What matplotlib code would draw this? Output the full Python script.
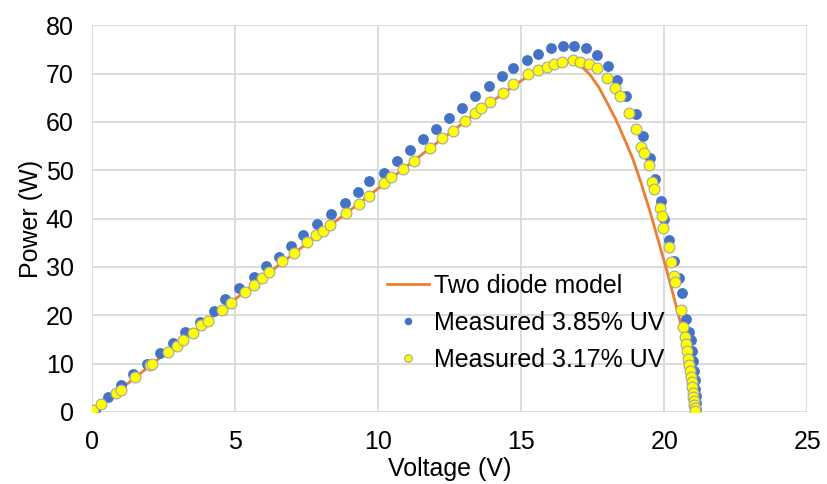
import matplotlib.pyplot as plt

plt.rcParams['font.family'] = ['Liberation Sans', 'DejaVu Sans']

# two diode model curve
v_model = [0, 1, 2, 3, 4, 5, 6, 7, 8, 9, 10, 11, 12, 13, 14, 15, 15.5, 16, 16.5, 16.8,
           17.1, 17.4, 17.7, 18.0, 18.3, 18.6, 18.9, 19.2, 19.5, 19.8, 20.1, 20.4,
           20.6, 20.8, 20.95, 21.06]
p_model = [0, 4.7, 9.4, 14.1, 18.7, 23.3, 27.9, 32.5, 37.1, 41.6, 46.2, 50.8, 55.4,
           59.9, 64.3, 68.5, 70.4, 71.9, 72.6, 72.7, 71.5, 69.8, 67.3, 64.0, 60.6,
           56.6, 52.4, 47.2, 41.5, 35.3, 29.0, 22.3, 17.6, 11.8, 6.0, 0]

# measured 3.85% UV
v_blue = [0.1, 0.56, 1.03, 1.44, 1.91, 2.37, 2.84, 3.27, 3.78, 4.25, 4.66, 5.15, 5.66,
          6.07, 6.54, 6.97, 7.39, 7.88, 8.35, 8.84, 9.29, 9.70, 10.2, 10.65, 11.1,
          11.57, 12.03, 12.47, 12.94, 13.40, 13.87, 14.34, 14.72, 15.19, 15.6, 16.04,
          16.48, 16.86, 17.27, 17.65, 18.02, 18.35, 18.67, 19.0, 19.26, 19.52, 19.67,
          19.87, 19.99, 20.16, 20.34, 20.52, 20.63, 20.75, 20.86, 20.92, 20.98, 21.02,
          21.05, 21.07, 21.09, 21.1, 21.11, 21.12]
p_blue = [0.3, 3.0, 5.6, 7.8, 9.9, 12.1, 14.2, 16.6, 18.6, 20.9, 23.3, 25.7, 28.0,
          30.2, 32.0, 34.4, 36.5, 38.9, 41.0, 43.2, 45.4, 47.7, 49.5, 51.8, 54.2,
          56.4, 58.5, 60.7, 62.8, 65.4, 67.5, 69.4, 71.2, 72.7, 74.0, 75.2,
          75.7, 75.7, 75.3, 73.8, 71.5, 68.7, 65.4, 61.6, 57.1, 52.6, 48.2,
          43.7, 39.8, 35.5, 31.3, 27.6, 24.5, 19.3, 16.5, 14.8, 12.5, 10.5,
          8.5, 6.5, 4.8, 3.2, 1.8, 0.5]

# measured 3.17% UV
v_yel = [0.04, 0.33, 0.85, 1.0, 1.5, 2.02, 2.1, 2.67, 2.96, 3.19, 3.54, 3.81, 4.07,
         4.54, 4.87, 5.36, 5.65, 5.95, 6.19, 6.66, 7.06, 7.51, 7.82, 8.06, 8.33, 8.88,
         9.35, 9.70, 10.2, 10.46, 10.87, 11.27, 11.8, 12.24, 12.62, 13.03, 13.4, 13.61,
         13.91, 14.37, 14.72, 15.25, 15.6, 15.89, 16.16, 16.42, 16.8, 17.06, 17.36,
         17.65, 18.0, 18.29, 18.47, 18.76, 19.0, 19.2, 19.29, 19.46, 19.58, 19.64,
         19.84, 19.91, 19.97, 20.15, 20.25, 20.33, 20.39, 20.57, 20.66, 20.72, 20.76,
         20.8, 20.84, 20.87, 20.9, 20.93, 20.96, 20.98, 21.0, 21.02, 21.04, 21.05,
         21.06, 21.08]
p_yel = [0.4, 1.6, 3.9, 4.6, 7.2, 9.7, 10.0, 12.4, 13.6, 14.8, 16.4, 17.9, 18.8,
         21.0, 22.5, 24.8, 26.2, 27.6, 28.9, 31.3, 32.8, 35.1, 36.5, 37.5, 38.6, 41.1,
         43.0, 44.7, 47.3, 48.5, 50.2, 52.0, 54.5, 56.6, 58.1, 60.2, 61.9, 62.8,
         64.1, 66.0, 67.8, 69.8, 70.7, 71.4, 72.0, 72.4, 72.8, 72.4, 71.9,
         71.2, 69.1, 67.1, 65.4, 61.9, 58.5, 54.8, 53.5, 51.1, 47.5, 46.2,
         42.2, 40.6, 38.1, 34.1, 31.0, 28.2, 26.9, 21.0, 17.6, 15.5, 14.0,
         12.5, 11.0, 9.8, 8.5, 7.3, 6.2, 5.1, 4.0, 3.0, 2.2, 1.5,
         0.8, 0.1]

fig = plt.figure(figsize=(8.28, 4.84), dpi=100)
ax = fig.add_axes([0.111, 0.149, 0.864, 0.799])

ax.plot(v_model, p_model, color='#ED7D31', linewidth=2, zorder=2, label='Two diode model')
ax.plot(v_blue, p_blue, 'o', color='#4472C4', markersize=7.8, markeredgewidth=0,
        zorder=3, label='Measured 3.85% UV')
ax.plot(v_yel, p_yel, 'o', color='#FFFF00', markeredgecolor='#A5A5A5', markersize=7.8,
        markeredgewidth=0.8, zorder=4, label='Measured 3.17% UV')

ax.set_xlim(0, 25)
ax.set_ylim(0, 80)
ax.set_xticks([0, 5, 10, 15, 20, 25])
ax.set_yticks(range(0, 81, 10))
ax.grid(True, color='#d9d9d9', linewidth=1.3)
ax.set_axisbelow(True)
for s in ax.spines.values():
    s.set_visible(False)
ax.tick_params(length=0, labelsize=18, pad=13)
ax.tick_params(axis='x', pad=13)
ax.set_xlabel('Voltage (V)', fontsize=18, labelpad=2)
ax.set_ylabel('Power (W)', fontsize=18, labelpad=2)

leg = ax.legend(loc='upper left', bbox_to_anchor=(0.413, 0.357), frameon=False, fontsize=18,
                borderaxespad=0, borderpad=0, handlelength=1.65, handletextpad=0.2,
                labelspacing=0.52, markerscale=0.7)

fig.savefig('out.png', dpi=100)
